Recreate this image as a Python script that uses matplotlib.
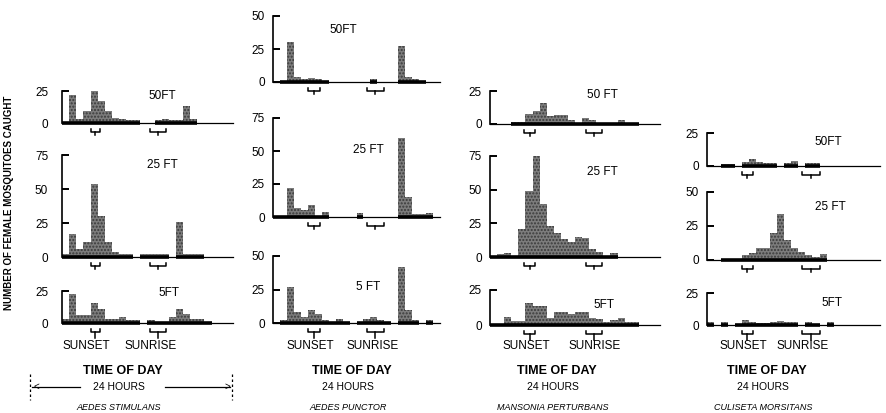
import matplotlib.pyplot as plt
from matplotlib.transforms import blended_transform_factory

plt.rcParams['font.family'] = ['Liberation Sans', 'DejaVu Sans']

W, H = 886, 413
hours = list(range(24))

# hourly catches, one list per species and trap height
stimulans_50 = [0.5, 22, 3, 9, 25, 17, 9, 4, 3, 2, 2, 0, 0, 2, 3, 2, 2, 13, 3, 0, 0, 0, 0, 0]
stimulans_25 = [2, 17, 6, 11, 54, 30, 11, 4, 2.5, 2.5, 0, 2, 2, 2, 2, 0, 26, 2, 2, 2, 0, 0, 0, 0]
stimulans_5 = [3, 23, 6, 6, 16, 11, 3, 3, 5, 2, 2, 0, 2, 1, 1, 5, 11, 7, 3, 3, 1, 0, 0, 0]

punctor_50 = [0, 1, 30, 4, 2, 3, 2, 1, 0, 0, 0, 0, 0, 0, 2.5, 0, 0, 0, 27, 4, 2, 1, 0, 0]
punctor_25 = [1, 1, 22, 7, 5, 9, 1, 4, 0, 0, 0, 0, 3, 0, 0, 0, 0, 0, 60, 15, 2.5, 2.5, 3, 0]
punctor_5 = [0, 2.5, 27, 8, 4.5, 10, 7, 2.5, 1, 3, 1, 0, 0.5, 3, 4.5, 2.5, 1, 0, 42, 10, 2, 0, 2, 0]

perturbans_50 = [0, 0, 0, 1.5, 1.5, 7.5, 9.5, 16, 6, 7, 7, 3, 0.5, 4.5, 3, 0.3, 0.3, 0.3, 3, 0.2, 0.2, 0, 0, 0]
perturbans_25 = [1, 2, 3, 1, 21, 49, 75, 39, 23, 18, 13, 11, 15, 14, 6, 4, 1, 3, 0, 0, 0, 0, 0, 0]
perturbans_5 = [0.5, 1, 6, 3, 3, 15.5, 13.5, 13.5, 5, 9, 9, 8, 9, 9, 5, 4, 2, 3.5, 5, 2.5, 2.5, 0, 0, 0]

morsitans_50 = [0, 0, 1.5, 1.5, 0, 3, 5, 3, 2, 2.5, 0, 2.5, 3.5, 0, 2, 2.5, 0, 0, 0, 0, 0, 0, 0, 0]
morsitans_25 = [0, 0, 1, 1, 1, 3.5, 5, 9, 9, 19.5, 34, 15, 9, 6, 3.5, 2, 4.5, 0, 0, 0, 0, 0, 0, 0]
morsitans_5 = [2, 0, 2, 0, 0.5, 4, 2, 1.5, 1.5, 2.5, 3.5, 2, 2, 0, 2, 0.5, 0, 2.5, 0, 0, 0, 0, 0, 0]

height_labels = [
    ['50FT', '25 FT', '5FT'],
    ['50FT', '25 FT', '5 FT'],
    ['50 FT', '25 FT', '5FT'],
    ['50FT', '25 FT', '5FT'],
]
species = ['AEDES STIMULANS', 'AEDES PUNCTOR', 'MANSONIA PERTURBANS', 'CULISETA MORSITANS']
catches = [
    [stimulans_50, stimulans_25, stimulans_5],
    [punctor_50, punctor_25, punctor_5],
    [perturbans_50, perturbans_25, perturbans_5],
    [morsitans_50, morsitans_25, morsitans_5],
]
# sunset / sunrise spans (hour of the 24 h axis)
sunset = [(4.0, 5.4), (5.1, 6.7), (4.8, 6.4), (5.0, 6.5)]
sunrise = [(12.4, 14.6), (13.5, 15.9), (13.6, 15.8), (13.5, 16.0)]
y_max = [[25, 75, 25], [50, 75, 50], [25, 75, 25], [25, 50, 25]]

# layout in pixels: column x extents, panel (zero_y, top_y), label position
col_x = [(62, 233), (273, 440), (490, 660), (707, 880)]
col_xmax = [24, 24, 24, 24.6]
panel_y = [
    [(123, 91), (257, 155), (323, 291)],
    [(82, 16), (217, 118), (323, 256)],
    [(124, 91), (257, 156), (325, 290)],
    [(166, 133), (260, 192), (325, 293)],
]
label_pos = [
    [(162, 96), (162, 165), (169, 293)],
    [(343, 30), (368, 150), (368, 287)],
    [(602, 95), (602, 172), (604, 305)],
    [(828, 142), (830, 207), (832, 303)],
]
tick_pad = [10, 6, 6, 6]
bottom_x = [(86, 151), (310, 373), (526, 595), (743, 803)]
time_x = [123, 352, 557, 767]

fig = plt.figure(figsize=(W / 100, H / 100), dpi=100)


def bracket(ax, span, drop, h_px):
    tr = blended_transform_factory(ax.transData, ax.transAxes)
    a, b = span
    m = (a + b) / 2
    y1 = -9 / h_px
    y0 = -6 / h_px
    y2 = -(9 + drop) / h_px
    kw = dict(color='black', lw=1.1, transform=tr, clip_on=False)
    ax.plot([a, a, b, b], [y0, y1, y1, y0], **kw)
    ax.plot([m, m], [y1, y2], **kw)


for c in range(4):
    x0, x1 = col_x[c]
    for r in range(3):
        zero_y, top_y = panel_y[c][r]
        h_px = zero_y - top_y
        ax = fig.add_axes([x0 / W, (H - zero_y) / H, (x1 - x0) / W, h_px / H])
        vals = catches[c][r]
        ax.bar(hours, vals, width=1, align='edge', color='#7c7c7c',
               edgecolor='#3a3a3a', hatch='.....', linewidth=0)
        for i, v in enumerate(vals):
            if v > 0:
                ax.plot([i, i + 1], [0, 0], color='black', lw=2.6,
                        solid_capstyle='butt', clip_on=False)
        ax.set_xlim(0, col_xmax[c])
        ax.set_ylim(0, y_max[c][r])
        ax.set_yticks(range(0, y_max[c][r] + 1, 25))
        ax.set_xticks([])
        ax.tick_params(axis='y', direction='in', length=5, width=1.4,
                       labelsize=8.5, pad=tick_pad[c])
        for s in ['top', 'right']:
            ax.spines[s].set_visible(False)
        ax.spines['left'].set_linewidth(1.2)
        ax.spines['bottom'].set_linewidth(0.9)
        ax.patch.set_alpha(0)

        lx, ly = label_pos[c][r]
        fig.text(lx / W, 1 - ly / H, height_labels[c][r], ha='center', va='center',
                 fontsize=8.5)

        drop = 6 if r == 2 else 3
        bracket(ax, sunset[c], drop, h_px)
        bracket(ax, sunrise[c], drop, h_px)

    sx, rx = bottom_x[c]
    ly = 346
    fig.text(sx / W, 1 - ly / H, 'SUNSET', ha='center', va='center', fontsize=8.5)
    fig.text(rx / W, 1 - ly / H, 'SUNRISE', ha='center', va='center', fontsize=8.5)
    fig.text(time_x[c] / W, 1 - 371 / H, 'TIME OF DAY', ha='center', va='center',
             fontsize=9, fontweight='bold')
    fig.text((time_x[c] - 4) / W, 1 - 387 / H, '24 HOURS', ha='center', va='center',
             fontsize=7.5)
    fig.text((time_x[c] - 4) / W, 1 - 407 / H, species[c], ha='center', va='center',
             fontsize=6.5, fontstyle='italic')

# 24 hour span marker under the first column
arrow_y = 1 - 387 / H
fig.add_artist(plt.Line2D([30 / W, 30 / W], [1 - 374 / H, 1 - 400 / H],
                          color='black', lw=0.9, ls=(0, (2, 2))))
fig.add_artist(plt.Line2D([232 / W, 232 / W], [1 - 374 / H, 1 - 400 / H],
                          color='black', lw=0.9, ls=(0, (2, 2))))
fig.add_artist(plt.Line2D([80 / W, 32 / W], [arrow_y, arrow_y], color='black', lw=0.9))
fig.add_artist(plt.Line2D([165 / W, 230 / W], [arrow_y, arrow_y], color='black', lw=0.9))
fig.text(33 / W, arrow_y, '<', ha='left', va='center', fontsize=7)
fig.text(230 / W, arrow_y, '>', ha='right', va='center', fontsize=7)

fig.text(9 / W, 1 - 203 / H, 'NUMBER OF FEMALE MOSQUITOES CAUGHT', rotation=90,
         ha='center', va='center', fontsize=7, fontweight='bold')

fig.savefig('out.png', dpi=100)
